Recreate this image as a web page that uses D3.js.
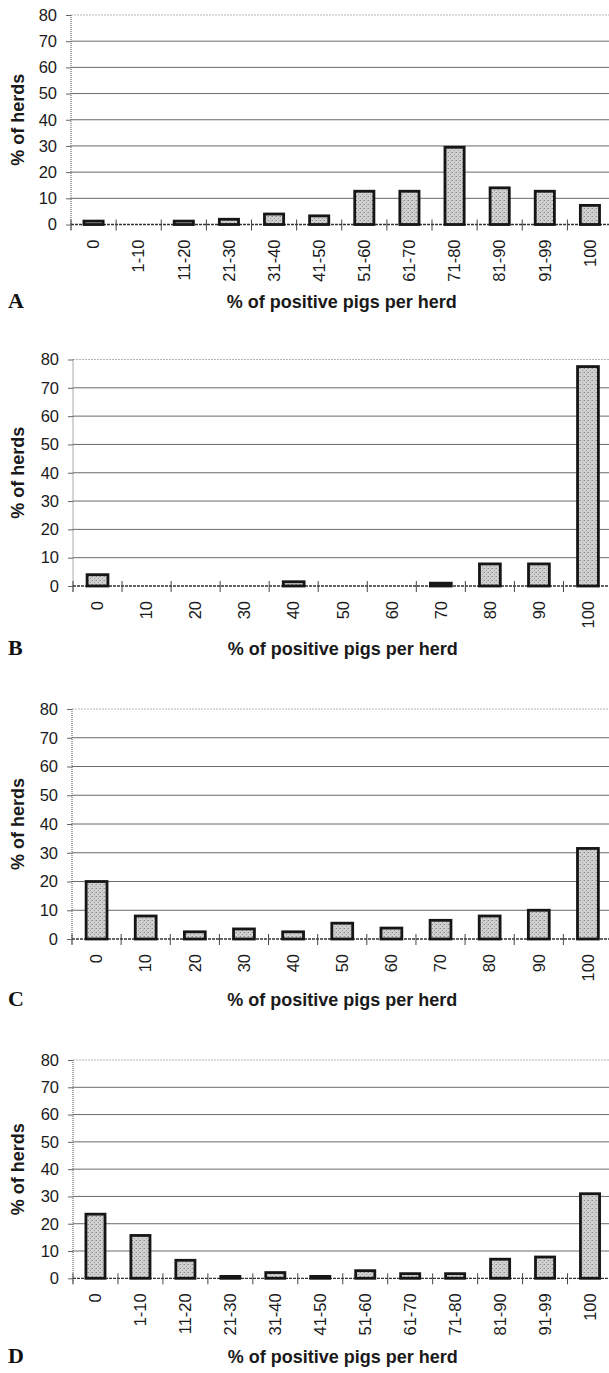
<!DOCTYPE html>
<html>
<head>
<meta charset="utf-8">
<style>
  body { margin: 0; background: #fff; }
  svg { display: block; }
</style>
</head>
<body>
<svg width="609" height="1373"></svg>
<script src="https://d3js.org/d3.v7.min.js"></script>
<script>

// categories
var rangeCats  = ["0", "1-10", "11-20", "21-30", "31-40", "41-50", "51-60", "61-70", "71-80", "81-90", "91-99", "100"];
var decileCats = ["0", "10", "20", "30", "40", "50", "60", "70", "80", "90", "100"];

// % of herds
var valuesA = [1.3, 0, 1.3, 2, 4, 3.3, 12.7, 12.7, 29.5, 14, 12.7, 7.3];
var valuesB = [4, 0, 0, 0, 1.5, 0, 0, 1, 7.8, 7.8, 77.5];
var valuesC = [20, 8, 2.5, 3.5, 2.5, 5.5, 3.8, 6.5, 8, 10, 31.5];
var valuesD = [23.5, 15.7, 6.6, 0.7, 2.1, 0.7, 2.8, 1.7, 1.7, 7, 7.8, 31];

var yTicks = [0, 10, 20, 30, 40, 50, 60, 70, 80];
var panelLetters = ["A", "B", "C", "D"];
var xTitle = "% of positive pigs per herd";
var yTitle = "% of herds";

// where each panel sits on the page
var layout = [
  { left: 71, top: 15,   bottom: 224.5, titleY: 308 },
  { left: 73, top: 359.5, bottom: 586,  titleY: 655 },
  { left: 72, top: 709,  bottom: 939,   titleY: 1006 },
  { left: 73, top: 1060, bottom: 1278.3, titleY: 1363 }
];
var right = 612.5;

var panels = [
  { cats: rangeCats,  values: valuesA },
  { cats: decileCats, values: valuesB },
  { cats: decileCats, values: valuesC },
  { cats: rangeCats,  values: valuesD }
];

var svg = d3.select("svg");

// stippled grey fill for the bars
var pat = svg.append("defs").append("pattern")
  .attr("id", "stip")
  .attr("width", 4).attr("height", 4)
  .attr("patternUnits", "userSpaceOnUse");
pat.append("rect").attr("width", 4).attr("height", 4).attr("fill", "#d0d0d0");
pat.append("rect").attr("x", 0).attr("y", 0).attr("width", 1).attr("height", 1).attr("fill", "#8a8a8a");
pat.append("rect").attr("x", 2).attr("y", 2).attr("width", 1).attr("height", 1).attr("fill", "#9a9a9a");
pat.append("rect").attr("x", 3).attr("y", 0).attr("width", 1).attr("height", 1).attr("fill", "#b0b0b0");

var sans = "'Liberation Sans', Arial, sans-serif";

panels.forEach(function(p, i) {
  var L = layout[i];
  var g = svg.append("g");

  var x = d3.scaleBand()
    .domain(p.cats)
    .range([L.left, right])
    .paddingInner(0.575)
    .paddingOuter(0.2875);

  var y = d3.scaleLinear()
    .domain([0, 80])
    .range([L.bottom, L.top]);

  // horizontal gridlines
  g.selectAll(".grid")
    .data(yTicks.filter(function(t) { return t > 0; }))
    .enter().append("line")
    .attr("x1", L.left)
    .attr("x2", right)
    .attr("y1", function(d) { return y(d); })
    .attr("y2", function(d) { return y(d); })
    .attr("stroke", function(d) { return d === 80 ? "#b5b5b5" : "#6a6a6a"; })
    .attr("stroke-dasharray", function(d) { return d === 80 ? "2,1" : null; })
    .attr("stroke-width", 1);

  // y axis
  var yAxis = g.append("g")
    .attr("transform", "translate(" + L.left + ",0)")
    .call(d3.axisLeft(y).tickValues(yTicks).tickSize(5).tickSizeOuter(0).tickPadding(9));
  yAxis.select(".domain").remove();
  yAxis.selectAll(".tick line").attr("stroke", "#666");
  yAxis.selectAll(".tick text")
    .attr("fill", "#1a1a1a")
    .style("font-family", sans)
    .style("font-size", "16.5px");

  g.append("line")
    .attr("x1", L.left).attr("x2", L.left)
    .attr("y1", L.top).attr("y2", L.bottom + 6)
    .attr("stroke", "#555")
    .attr("stroke-dasharray", "1,1");

  // x axis
  var xAxis = g.append("g")
    .attr("transform", "translate(0," + L.bottom + ")")
    .call(d3.axisBottom(x).tickSize(0).tickSizeOuter(0));
  xAxis.select(".domain").remove();
  xAxis.selectAll(".tick text")
    .attr("transform", "rotate(-90)")
    .attr("x", -15)
    .attr("y", 0)
    .attr("dy", "0.35em")
    .style("text-anchor", "end")
    .attr("fill", "#1a1a1a")
    .style("font-family", sans)
    .style("font-size", "16.5px");

  g.append("line")
    .attr("x1", L.left).attr("x2", right)
    .attr("y1", L.bottom).attr("y2", L.bottom)
    .attr("stroke", "#333")
    .attr("stroke-width", 1.3)
    .attr("stroke-dasharray", "3,1");

  // tick marks sit between categories
  var step = x.step();
  var bounds = d3.range(p.cats.length + 1).map(function(k) { return L.left + k * step; });
  g.selectAll(".bt")
    .data(bounds)
    .enter().append("line")
    .attr("x1", function(d) { return d; })
    .attr("x2", function(d) { return d; })
    .attr("y1", L.bottom - 5)
    .attr("y2", L.bottom + 6)
    .attr("stroke", "#444");

  // bars
  g.selectAll(".bar")
    .data(p.cats.map(function(c, k) { return { cat: c, v: p.values[k] }; })
      .filter(function(d) { return d.v > 0; }))
    .enter().append("rect")
    .attr("x", function(d) { return x(d.cat); })
    .attr("width", x.bandwidth())
    .attr("y", function(d) { return y(d.v); })
    .attr("height", function(d) { return L.bottom - y(d.v); })
    .attr("fill", "url(#stip)")
    .attr("stroke", "#161616")
    .attr("stroke-width", 2.8);

  // titles
  g.append("text")
    .attr("transform", "translate(24," + ((L.top + L.bottom) / 2) + ") rotate(-90)")
    .attr("text-anchor", "middle")
    .attr("fill", "#1a1a1a")
    .style("font-family", sans)
    .style("font-weight", "bold")
    .style("font-size", "18px")
    .text(yTitle);

  g.append("text")
    .attr("x", (L.left + right) / 2)
    .attr("y", L.titleY)
    .attr("text-anchor", "middle")
    .attr("fill", "#1a1a1a")
    .style("font-family", sans)
    .style("font-weight", "bold")
    .style("font-size", "18px")
    .text(xTitle);

  g.append("text")
    .attr("x", 8)
    .attr("y", L.titleY)
    .attr("fill", "#111")
    .style("font-family", "'Liberation Serif', 'Times New Roman', serif")
    .style("font-weight", "bold")
    .style("font-size", "22px")
    .text(panelLetters[i]);
});

</script>
</body>
</html>
